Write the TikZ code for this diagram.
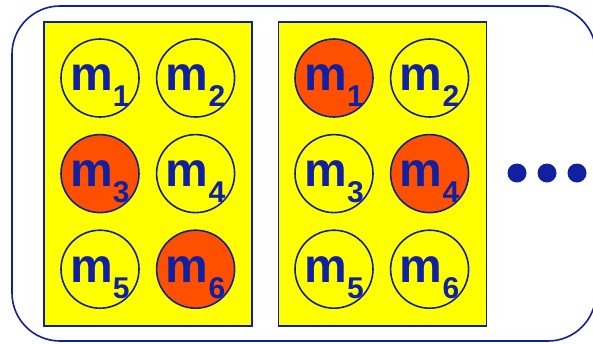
\documentclass[tikz,border=0pt]{standalone}
\usepackage{fontspec}
\setmainfont{Liberation Sans}
\usetikzlibrary{positioning}
\definecolor{ballblue}{RGB}{16, 32, 160}
\definecolor{ballred}{RGB}{255, 80, 0}
\definecolor{boxyellow}{RGB}{255, 255, 0}
\newcommand{\mlabel}[1]{m\raisebox{-16pt}{\fontsize{30}{30}\selectfont #1}}

\begin{document}
\begin{tikzpicture}[x=1pt, y=-1pt, node distance=16pt,
  font=\fontsize{48}{48}\selectfont\bfseries,
  frame/.style={draw=ballblue, line width=1.6pt, rectangle, rounded corners=48pt, minimum width=584pt, minimum height=335pt, inner sep=0pt},
  panel/.style={draw=ballblue, line width=1.4pt, fill=boxyellow, rectangle, minimum width=208pt, minimum height=304pt, inner sep=0pt},
  ball/.style={draw=ballblue, line width=1.6pt, fill=boxyellow, circle, minimum size=78pt, inner sep=0pt, text=ballblue, text depth=0pt},
  hit/.style={ball, fill=ballred},
  more/.style={fill=ballblue, circle, minimum size=19pt, inner sep=0pt}]
 \useasboundingbox (0,0) rectangle (593,343);

 \node[frame] (frame) at (304,173.5) {};
 \node[panel] (left) at (148,174) {};
 \node[panel] (right) at (382.5,174) {};

 % first sample
 \node[ball] (a1) at (100,78) {\mlabel{1}};
 \node[ball, right=of a1] (a2) {\mlabel{2}};
 \node[hit, below=of a1] (a3) {\mlabel{3}};
 \node[ball, right=of a3] (a4) {\mlabel{4}};
 \node[ball, below=of a3] (a5) {\mlabel{5}};
 \node[hit, right=of a5] (a6) {\mlabel{6}};

 % second sample
 \node[hit] (b1) at (334,78) {\mlabel{1}};
 \node[ball, right=of b1] (b2) {\mlabel{2}};
 \node[ball, below=of b1] (b3) {\mlabel{3}};
 \node[hit, right=of b3] (b4) {\mlabel{4}};
 \node[ball, below=of b3] (b5) {\mlabel{5}};
 \node[ball, right=of b5] (b6) {\mlabel{6}};

 \node[more] (dot1) at (517,173) {};
 \node[more] (dot2) at (547,173) {};
 \node[more] (dot3) at (577,173) {};
\end{tikzpicture}
\end{document}
